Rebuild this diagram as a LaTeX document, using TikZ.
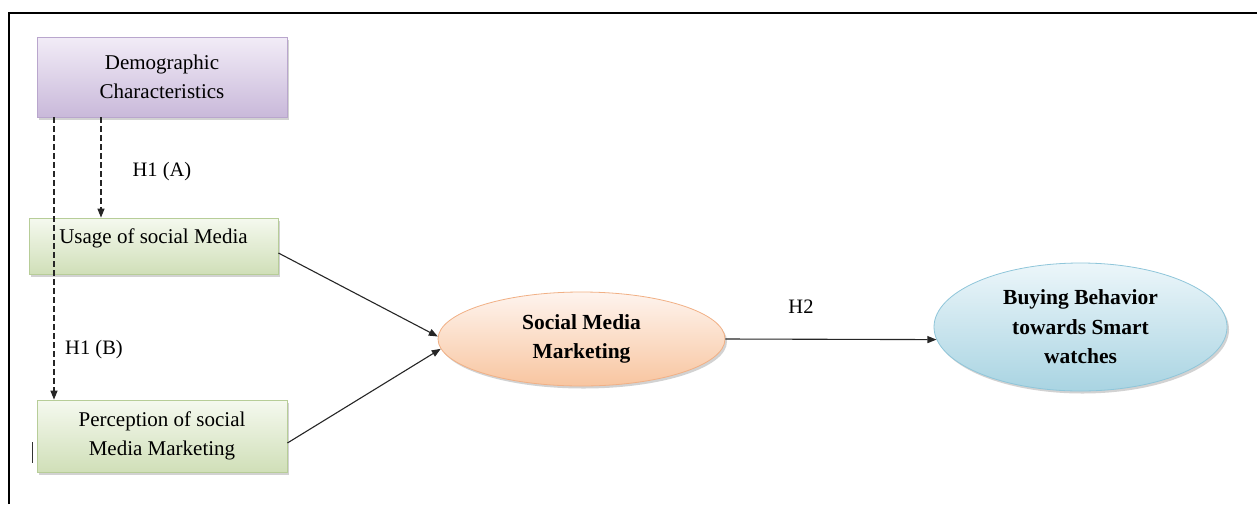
\documentclass[tikz,border=0pt]{standalone}
\usepackage{fontspec}
\setmainfont{Liberation Serif}
\usetikzlibrary{shapes.geometric,arrows.meta,shadows}
\definecolor{demoTop}{HTML}{F2ECF7}
\definecolor{demoBot}{HTML}{C9B9DA}
\definecolor{demoLine}{HTML}{B9A6CD}
\definecolor{grnTop}{HTML}{F5F9EF}
\definecolor{grnBot}{HTML}{D0DFB8}
\definecolor{grnLine}{HTML}{B7CD98}
\definecolor{orgTop}{HTML}{FEF4EE}
\definecolor{orgBot}{HTML}{F8C5A0}
\definecolor{orgLine}{HTML}{F1B085}
\definecolor{bluTop}{HTML}{ECF6FA}
\definecolor{bluBot}{HTML}{A9D4E2}
\definecolor{bluLine}{HTML}{8FC6DA}
\begin{document}
\begin{tikzpicture}[x=1pt,y=-1pt,
  shade/.style={drop shadow={shadow xshift=2pt,shadow yshift=-2.5pt,opacity=0.35}},
  box/.style={rectangle, draw=#1Line, top color=#1Top, bottom color=#1Bot,
    line width=0.8pt, align=center, inner sep=0pt, shade,
    font=\fontsize{21}{29}\selectfont},
  oval/.style={ellipse, draw=#1Line, top color=#1Top, bottom color=#1Bot,
    line width=0.8pt, align=center, inner sep=0pt, shade,
    font=\fontsize{21.5}{29.5}\selectfont\bfseries},
  lbl/.style={font=\fontsize{20.5}{24}\selectfont, inner sep=0pt},
  tip/.style={-{Triangle[length=9pt,width=7pt]}},
  conn/.style={tip, line width=1.1pt, draw=black!85},
  dconn/.style={tip, line width=1.2pt, draw=black!85, dash pattern=on 6pt off 3pt}]
\useasboundingbox (0,0) rectangle (1257,504);
\fill[white] (0,0) rectangle (1257,504);
\draw[line width=2pt] (9,504) -- (9,13) -- (1257,13);

\node[box=demo, minimum width=250, minimum height=80] (demo) at (162,77)
  {Demographic\\Characteristics};
\node[box=grn, minimum width=249, minimum height=56, text height=14pt, text depth=20pt] (usage) at (153.5,246)
  {Usage of social Media};
\node[box=grn, minimum width=250, minimum height=72] (perc) at (162,436)
  {Perception of social\\Media Marketing};
\node[oval=org, minimum width=287, minimum height=94] (smm) at (581.5,339)
  {Social Media\\Marketing};
\node[oval=blu, minimum width=293, minimum height=128] (buy) at (1080.5,327)
  {Buying Behavior\\towards Smart\\watches};

\draw[dconn] ([xshift=-61pt]demo.south) -- ([xshift=-61pt]demo.south |- usage.north);
\draw[dconn] ([xshift=-108pt]demo.south) -- ([xshift=-108pt]demo.south |- perc.north);
\draw[conn] ([yshift=-7pt]usage.east) -- (smm.179);
\draw[conn] ([yshift=-7pt]perc.east) -- (smm.184);
\draw[conn] (smm.east) -- (buy.185);

\node[lbl] (ha) at (162,172) {H1 (A)};
\node[lbl] (hb) at (94,350) {H1 (B)};
\node[lbl] (hc) at (801,307) {H2};

\draw[line width=1pt, black!80] (32,442) -- (32,463);
\end{tikzpicture}
\end{document}
